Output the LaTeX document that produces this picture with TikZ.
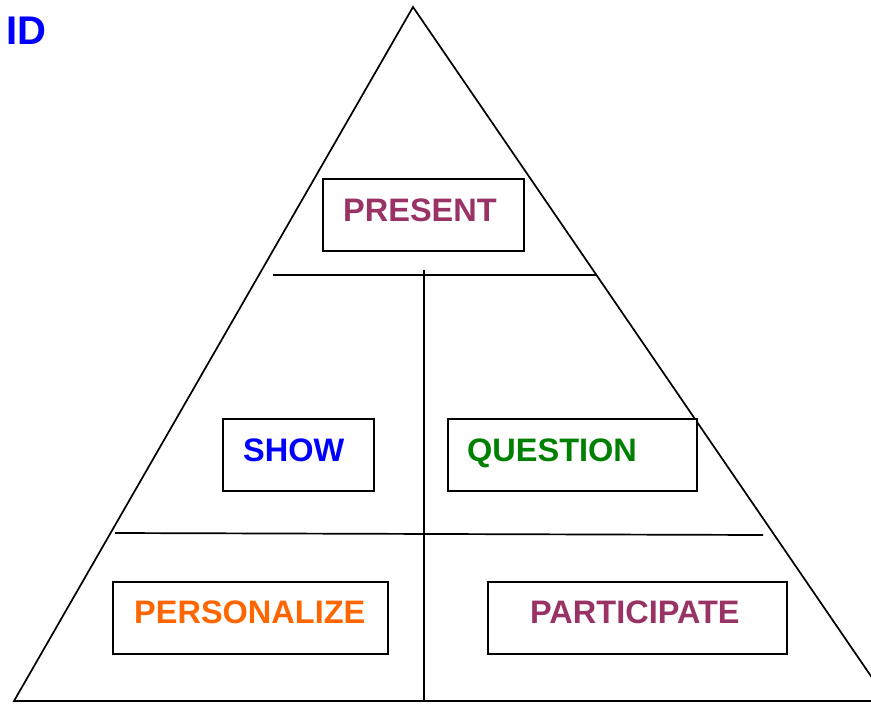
\documentclass[tikz,border=0pt]{standalone}
\usepackage{fontspec}
\setmainfont{Liberation Sans}
\definecolor{cpurple}{RGB}{153,51,102}
\definecolor{cgreen}{RGB}{0,128,0}
\definecolor{corange}{RGB}{255,102,0}
\definecolor{cblue}{RGB}{0,0,255}
\begin{document}
\begin{tikzpicture}[x=1pt,y=-1pt,
  boxst/.style={draw=black,line width=1.9pt,rectangle,inner sep=0pt},
  lbl/.style={anchor=base west,inner sep=0pt,font=\fontsize{32.5}{37}\selectfont\bfseries},
  edge/.style={line width=1.7pt,black}]
\useasboundingbox (0,0) rectangle (871,705);
\begin{scope}
\clip (0,0) rectangle (871,705);
% title fragment
\node[anchor=base east,inner sep=0pt,text=cblue,font=\fontsize{40}{45}\selectfont\bfseries] (title) at (47,44) {ID};
% triangle
\coordinate (apex) at (413,7);
\coordinate (bl) at (14,701);
\coordinate (br) at (888,701);
\draw[edge,line join=miter] (bl) -- (apex) -- (br) -- cycle;
% dividers
\coordinate (h1a) at (273,275);
\coordinate (h1b) at (597,275);
\coordinate (h2a) at (115,533);
\coordinate (h2b) at (763,535);
\coordinate (va) at (424,270);
\coordinate (vb) at (424,701);
\draw[edge] (h1a) -- (h1b);
\draw[edge] (h2a) -- (h2b);
\draw[edge] (va) -- (vb);
% boxes
\node[boxst,fill=white,minimum width=201pt,minimum height=72pt] (present) at (423.5,215) {};
\node[boxst,fill=white,minimum width=151pt,minimum height=72pt] (show) at (298.5,455) {};
\node[boxst,fill=white,minimum width=249pt,minimum height=72pt] (question) at (572.5,455) {};
\node[boxst,fill=white,minimum width=275pt,minimum height=72pt] (personalize) at (250.5,618) {};
\node[boxst,fill=white,minimum width=299pt,minimum height=72pt] (participate) at (637.5,618) {};
% labels
\node[lbl,text=cpurple] (tpresent) at (343,221) {PRESENT};
\node[lbl,text=cblue] (tshow) at (243,461) {SHOW};
\node[lbl,text=cgreen] (tquestion) at (467,461) {QUESTION};
\node[lbl,text=corange] (tpersonalize) at (134,623) {PERSONALIZE};
\node[lbl,text=cpurple] (tparticipate) at (530,623) {PARTICIPATE};
\end{scope}
\end{tikzpicture}
\end{document}
